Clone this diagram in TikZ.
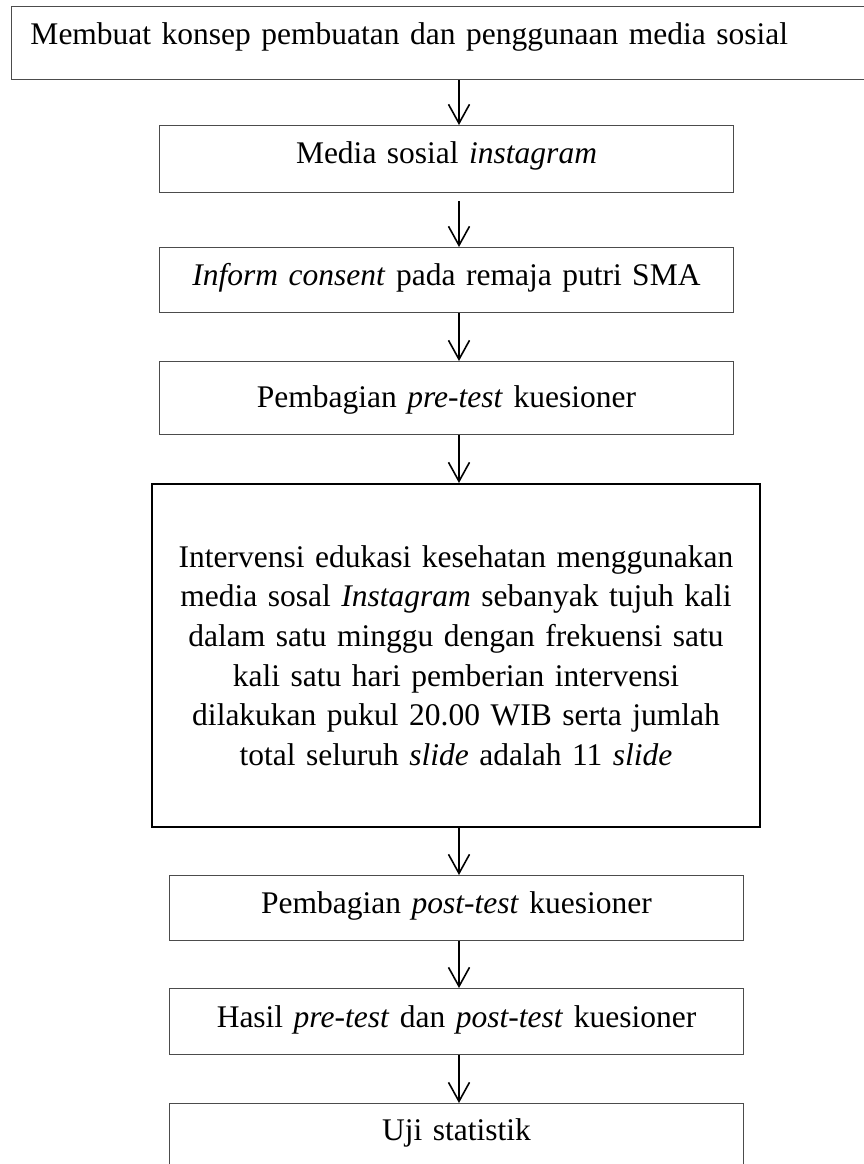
\documentclass[tikz,border=0pt]{standalone}
\usepackage{fontspec}
\setmainfont{Liberation Serif}
\usetikzlibrary{arrows.meta}
\begin{document}
\begin{tikzpicture}[x=1pt,y=-1pt,
  box/.style={draw=black!70, line width=1pt, inner sep=0pt, align=center,
    anchor=north west, font=\fontsize{31.5}{39.6}\selectfont},
  bigbox/.style={box, draw=black, line width=2pt},
  arr/.style={line width=1.6pt, -{Straight Barb[length=19pt,width=21pt,line width=1.6pt]}}]
\useasboundingbox (0,0) rectangle (863,1164);
\coordinate (ax) at (459,0);
\node[box, align=left, text width=837pt, inner xsep=19pt, text height=38pt, text depth=35pt] (b1) at (11,6)
  {Membuat konsep pembuatan dan penggunaan media sosial};
\node[box, text width=574pt, text height=38pt, text depth=29pt] (b2) at (159,125)
  {Media sosial \textit{instagram}};
\node[box, text width=574pt, text height=38pt, text depth=27pt] (b3) at (159,247)
  {\textit{Inform consent} pada remaja putri SMA};
\node[box, text width=574pt, text height=46pt, text depth=27pt] (b4) at (159,361)
  {Pembagian \textit{pre-test} kuesioner};
\node[bigbox, text width=608pt, minimum height=343pt] (b5) at (151,483)
  {Intervensi edukasi kesehatan menggunakan\\
   media sosal \textit{Instagram} sebanyak tujuh kali\\
   dalam satu minggu dengan frekuensi satu\\
   kali satu hari pemberian intervensi\\
   dilakukan pukul 20.00 WIB serta jumlah\\
   total seluruh \textit{slide} adalah 11 \textit{slide}};
\node[box, text width=574pt, text height=38pt, text depth=27pt] (b6) at (169,875)
  {Pembagian \textit{post-test} kuesioner};
\node[box, text width=574pt, text height=39pt, text depth=27pt] (b7) at (169,988)
  {Hasil \textit{pre-test} dan \textit{post-test} kuesioner};
\node[box, text width=574pt, text height=37pt, text depth=30pt] (b8) at (169,1103)
  {Uji statistik};
\draw[arr] (ax |- b1.south) -- (ax |- b2.north);
\draw[arr] ([yshift=-8pt]ax |- b2.south) -- (ax |- b3.north);
\draw[arr] (ax |- b3.south) -- (ax |- b4.north);
\draw[arr] (ax |- b4.south) -- (ax |- b5.north);
\draw[arr] (ax |- b5.south) -- (ax |- b6.north);
\draw[arr] (ax |- b6.south) -- (ax |- b7.north);
\draw[arr] (ax |- b7.south) -- (ax |- b8.north);
\end{tikzpicture}
\end{document}
